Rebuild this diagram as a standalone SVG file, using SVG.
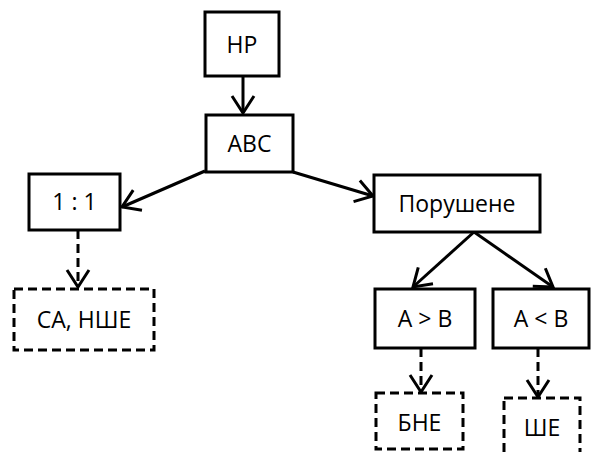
<svg xmlns="http://www.w3.org/2000/svg" width="592" height="452" viewBox="0 0 592 452">
<style>
.box{fill:#fff;stroke:#000;stroke-width:3}
.dbox{fill:#fff;stroke:#000;stroke-width:3;stroke-dasharray:9 5}
.lbl{font-family:"Open Sans","Liberation Sans",sans-serif;font-size:23px;fill:#000;text-anchor:middle;dominant-baseline:central}
.ln{fill:none;stroke:#000;stroke-width:3}
.dln{fill:none;stroke:#000;stroke-width:3;stroke-dasharray:9 5}
</style>
<defs>
<marker id="ah" markerUnits="userSpaceOnUse" viewBox="-20 -14 24 28" markerWidth="24" markerHeight="28" refX="0" refY="0" orient="auto" overflow="visible">
<path d="M-17,-11 L0,0 L-17,11" fill="none" stroke="#000" stroke-width="3"/>
</marker>
</defs>
<g id="connectors">
<line class="ln" x1="243" y1="76" x2="243" y2="113" marker-end="url(#ah)"/>
<line class="ln" x1="205" y1="171" x2="122" y2="207" marker-end="url(#ah)"/>
<line class="ln" x1="293" y1="172" x2="373" y2="196" marker-end="url(#ah)"/>
<line class="ln" x1="474" y1="232" x2="413" y2="287" marker-end="url(#ah)"/>
<line class="ln" x1="474" y1="232" x2="553" y2="287" marker-end="url(#ah)"/>
<line class="dln" x1="78" y1="230" x2="78" y2="287" marker-end="url(#ah)"/>
<line class="dln" x1="421" y1="348" x2="421" y2="392" marker-end="url(#ah)"/>
<line class="dln" x1="538" y1="348" x2="538" y2="397" marker-end="url(#ah)"/>
</g>
<g id="node-hp"><rect class="box" x="205" y="12" width="74" height="64"/><text class="lbl" x="242" y="44">НР</text></g>
<g id="node-abc"><rect class="box" x="206" y="115" width="87" height="57"/><text class="lbl" x="249.5" y="143">АВС</text></g>
<g id="node-11"><rect class="box" x="29" y="174" width="91" height="56"/><text class="lbl" x="74.5" y="201">1 : 1</text></g>
<g id="node-por"><rect class="box" x="374" y="175" width="166" height="57"/><text class="lbl" x="457" y="203">Порушене</text></g>
<g id="node-sa"><rect class="dbox" x="14" y="289" width="140" height="61"/><text class="lbl" x="84" y="319">СА, НШЕ</text></g>
<g id="node-agb"><rect class="box" x="375" y="289" width="100" height="59"/><text class="lbl" x="425" y="318">А &gt; В</text></g>
<g id="node-alb"><rect class="box" x="493" y="289" width="96" height="59"/><text class="lbl" x="541" y="318">А &lt; В</text></g>
<g id="node-bne"><rect class="dbox" x="376" y="393" width="87" height="56"/><text class="lbl" x="419.5" y="422">БНЕ</text></g>
<g id="node-she"><rect class="dbox" x="504" y="398" width="76" height="56"/><text class="lbl" x="542" y="427">ШЕ</text></g>
</svg>
